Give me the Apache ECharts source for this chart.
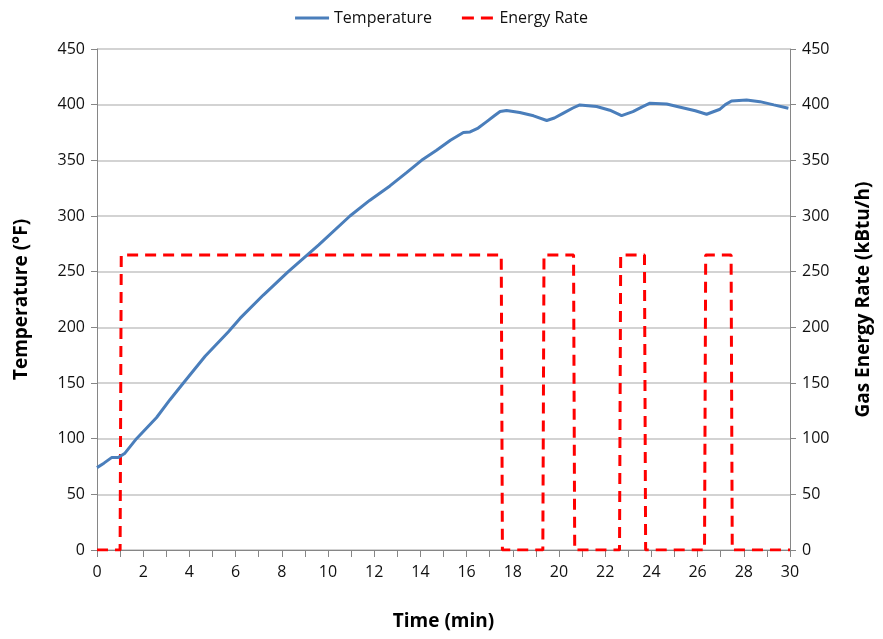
<!DOCTYPE html>
<html>
<head>
<meta charset="utf-8">
<script src="https://cdn.jsdelivr.net/npm/echarts@6/dist/echarts.min.js"></script>
<style>html,body{margin:0;padding:0;background:#fff}#c{width:883px;height:639px}</style>
</head>
<body>
<div id="c"></div>
<script>
// Time (min) and temperature (°F)
const tempTime = [0,0.3,0.63,0.92,1.21,1.71,2.58,3.16,3.74,4.68,5.69,6.19,7.2,8.28,9.6,10.95,11.8,12.68,13.4,14.05,14.7,15.3,15.86,16.15,16.5,16.87,17.2,17.45,17.73,18.3,18.9,19.47,19.8,20.19,20.6,20.9,21.63,22.2,22.71,23.2,23.6,23.94,24.66,25.3,25.9,26.39,26.97,27.2,27.47,28.12,28.7,29.3,29.93];
const tempValues = [74,78,83,83,87,100,119,135,150,174,196,208,229,250,274,300,314,327,339,350,359,368,375,375.5,379,384.8,390,393.8,394.8,393,390,385.8,388,392.4,397,399.8,398.3,395,390.2,393.8,398,401.3,400.6,397.5,394.5,391.4,395.9,400,403.3,404.2,402.7,399.8,396.8];
// Energy rate (kBtu/h)
const rateTime = [0,1.0,1.05,17.5,17.55,19.3,19.35,20.63,20.68,22.62,22.67,23.7,23.75,26.3,26.35,27.45,27.5,30];
const rateValues = [0,0,265,265,0,0,265,265,0,0,265,265,0,0,265,265,0,0];
const yTicks = [0,50,100,150,200,250,300,350,400,450];
const xLabels = ['0','2','4','6','8','10','12','14','16','18','20','22','24','26','28','30'];

const font = "'Open Sans',sans-serif";
const axisGrey = '#868686';
const chart = echarts.init(document.getElementById('c'));
const zip = (a,b)=>a.map((x,i)=>[x,b[i]]);
chart.setOption({
  animation:false,
  legend:{
    top:5,left:'center',itemWidth:34,itemHeight:3,itemGap:30,
    textStyle:{fontFamily:font,fontSize:16,color:'#111'},
    data:[
      {name:'Temperature',icon:'rect'},
      {name:'Energy Rate',icon:'path://M0,0h12v3h-12z M19,0h12v3h-12z'}
    ]
  },
  grid:{left:97,right:93,top:49,bottom:89},
  xAxis:{
    type:'value',min:0,max:30,interval:1,
    name:'Time (min)',nameLocation:'middle',nameGap:62,
    nameTextStyle:{fontFamily:font,fontSize:19,fontWeight:'bold',color:'#000'},
    axisLine:{lineStyle:{color:axisGrey,width:1}},
    axisTick:{show:true,length:7,lineStyle:{color:axisGrey}},
    axisLabel:{fontFamily:font,fontSize:16,color:'#111',margin:14,
      formatter:v=>xLabels.includes(String(v))?String(v):''},
    splitLine:{show:false}
  },
  yAxis:[{
    type:'value',min:0,max:450,interval:50,position:'left',
    name:'Temperature (°F)',nameLocation:'middle',nameGap:66,nameRotate:90,
    nameTextStyle:{fontFamily:font,fontSize:19,fontWeight:'bold',color:'#000'},
    axisLine:{show:true,lineStyle:{color:axisGrey}},
    axisTick:{show:true,length:6,lineStyle:{color:axisGrey}},
    axisLabel:{fontFamily:font,fontSize:16,color:'#111',margin:12,formatter:v=>yTicks.includes(v)?String(v):''},
    splitLine:{show:true,lineStyle:{color:'#c4c4c4',width:1.5}}
  },{
    type:'value',min:0,max:450,interval:50,position:'right',
    name:'Gas Energy Rate (kBtu/h)',nameLocation:'middle',nameGap:64,nameRotate:90,
    nameTextStyle:{fontFamily:font,fontSize:19,fontWeight:'bold',color:'#000'},
    axisLine:{show:true,lineStyle:{color:axisGrey}},
    axisTick:{show:true,length:6,lineStyle:{color:axisGrey}},
    axisLabel:{fontFamily:font,fontSize:16,color:'#111',margin:12,formatter:v=>yTicks.includes(v)?String(v):''},
    splitLine:{show:false}
  }],
  series:[{
    name:'Temperature',type:'line',yAxisIndex:0,showSymbol:false,symbol:'none',
    data:zip(tempTime,tempValues),
    lineStyle:{color:'#4a7ebb',width:3},itemStyle:{color:'#4a7ebb'},z:3
  },{
    name:'Energy Rate',type:'line',yAxisIndex:1,showSymbol:false,symbol:'none',
    data:zip(rateTime,rateValues),
    lineStyle:{color:'#ff0000',width:3,type:[11,7]},itemStyle:{color:'#ff0000'},z:2
  }]
});
</script>
</body>
</html>
